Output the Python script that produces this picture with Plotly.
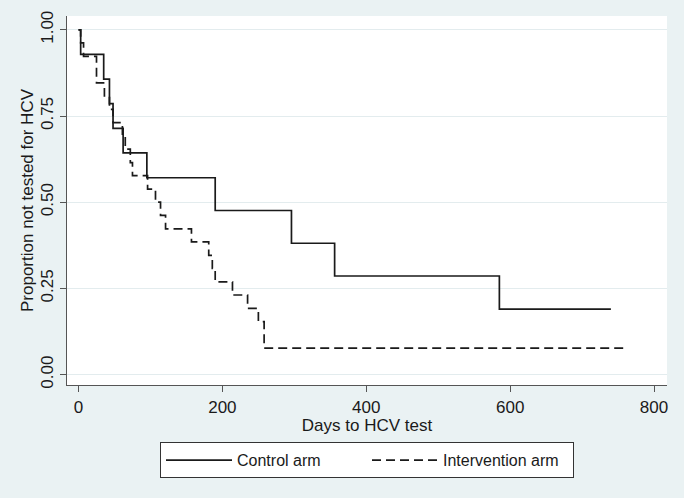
import plotly.graph_objects as go

# Kaplan-Meier style step data (days, proportion not tested)
control_days = [0, 3, 35, 43, 48, 62, 95, 190, 296, 356, 585, 740]
control_prop = [1.0, 0.929, 0.857, 0.786, 0.714, 0.643, 0.571, 0.476, 0.381, 0.286, 0.190, 0.190]

interv_days = [0, 3, 7, 25, 36, 43, 48, 61, 65, 72, 75, 96, 107, 114, 121, 157, 181, 186, 190, 214, 235, 250, 258, 761]
interv_prop = [1.0, 0.962, 0.923, 0.846, 0.808, 0.769, 0.731, 0.692, 0.654, 0.615, 0.577, 0.538, 0.500,
               0.462, 0.423, 0.385, 0.346, 0.308, 0.269, 0.231, 0.192, 0.154, 0.077, 0.077]

x_ticks = [0, 200, 400, 600, 800]
y_ticks = [0.0, 0.25, 0.5, 0.75, 1.0]
y_tick_labels = ["0.00", "0.25", "0.50", "0.75", "1.00"]

FONT = "Liberation Sans, Arial, sans-serif"
INK = "#1a1a1a"
BG = "#EAF2F3"
FS = 17

fig = go.Figure()
fig.add_trace(go.Scatter(
    x=control_days, y=control_prop, mode="lines", name="Control arm",
    line=dict(shape="hv", color=INK, width=1.7),
))
fig.add_trace(go.Scatter(
    x=interv_days, y=interv_prop, mode="lines", name="Intervention arm",
    line=dict(shape="hv", color=INK, width=1.7, dash="9px,5px"),
))

fig.update_layout(
    width=684, height=498,
    margin=dict(l=67, r=17, t=16, b=113, autoexpand=False),
    paper_bgcolor=BG, plot_bgcolor="white",
    font=dict(family=FONT, size=FS, color=INK),
    showlegend=True,
    legend=dict(
        orientation="h", x=0.5, xanchor="center", y=-0.155, yanchor="top",
        bgcolor="white", bordercolor="#333333", borderwidth=1,
        font=dict(family=FONT, size=16, color=INK),
        entrywidth=125, itemwidth=66, tracegroupgap=0,
    ),
)
fig.update_xaxes(
    range=[-16, 818], tickvals=x_ticks, ticks="outside", ticklen=6, tickcolor="#555555",
    showline=True, linecolor="#555555", linewidth=1.2, showgrid=False, zeroline=False,
    title=dict(text="Days to HCV test", standoff=0, font=dict(size=FS)),
    tickfont=dict(size=FS), automargin=False,
)
fig.update_yaxes(
    range=[-0.03, 1.04], tickvals=y_ticks, ticktext=y_tick_labels, tickangle=-90,
    ticks="outside", ticklen=6, tickcolor="#555555",
    showline=True, linecolor="#555555", linewidth=1.2,
    showgrid=True, gridcolor="#E3ECEE", gridwidth=1, zeroline=False,
    title=dict(text="Proportion not tested for HCV", standoff=0, font=dict(size=FS)),
    tickfont=dict(size=FS), automargin=False,
)

fig.write_html(
    "out.html",
    config={"displayModeBar": False},
    post_script="document.body.style.margin='0';document.body.style.background='" + BG + "';",
)
